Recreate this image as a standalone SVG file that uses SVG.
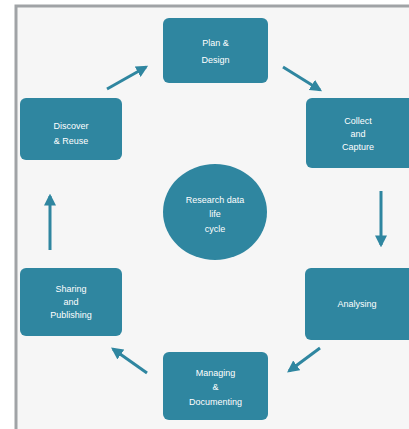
<svg xmlns="http://www.w3.org/2000/svg" width="409" height="429" viewBox="0 0 409 429">
<defs>
<style>
.box{fill:#2f86a0;}
.t{fill:#ffffff;font-family:"Liberation Sans",Arial,sans-serif;font-size:9px;text-anchor:middle;}
.c{stroke:#2f86a0;stroke-width:3;fill:none;marker-end:url(#ah);}
</style>
<marker id="ah" viewBox="0 0 10 10" refX="8" refY="5" markerWidth="4" markerHeight="4" orient="auto">
<path d="M0,0 L10,5 L0,10 z" fill="#2f86a0"/>
</marker>
</defs>
<rect x="0" y="0" width="409" height="429" fill="#ffffff"/>
<rect x="16" y="6" width="400" height="430" fill="#f6f6f6" stroke="#a0a3a6" stroke-width="3"/>
<g id="plan">
<rect class="box" x="163" y="18" width="105" height="65" rx="6"/>
<text class="t" x="215.5" y="46">Plan &amp;</text>
<text class="t" x="215.5" y="63">Design</text>
</g>
<g id="collect">
<rect class="box" x="306" y="98" width="110" height="70" rx="6"/>
<text class="t" x="358" y="124">Collect</text>
<text class="t" x="358" y="137">and</text>
<text class="t" x="358" y="150">Capture</text>
</g>
<g id="analyse">
<rect class="box" x="305" y="268" width="110" height="72" rx="6"/>
<text class="t" x="357" y="307">Analysing</text>
</g>
<g id="manage">
<rect class="box" x="163" y="352" width="105" height="68" rx="6"/>
<text class="t" x="215.5" y="376">Managing</text>
<text class="t" x="215.5" y="390">&amp;</text>
<text class="t" x="215.5" y="405">Documenting</text>
</g>
<g id="share">
<rect class="box" x="20" y="268" width="102" height="68" rx="6"/>
<text class="t" x="71" y="292">Sharing</text>
<text class="t" x="71" y="305">and</text>
<text class="t" x="71" y="318">Publishing</text>
</g>
<g id="reuse">
<rect class="box" x="20" y="98" width="102" height="62" rx="6"/>
<text class="t" x="71" y="129">Discover</text>
<text class="t" x="71" y="144">&amp; Reuse</text>
</g>
<g id="center">
<ellipse class="box" cx="215" cy="212" rx="52" ry="48"/>
<text class="t" x="215" y="203">Research data</text>
<text class="t" x="215" y="217">life</text>
<text class="t" x="215" y="232">cycle</text>
</g>
<g id="connectors">
<line class="c" x1="107" y1="89" x2="146" y2="67"/>
<line class="c" x1="283" y1="67" x2="320" y2="90"/>
<line class="c" x1="381" y1="191" x2="381" y2="245"/>
<line class="c" x1="320" y1="348" x2="289" y2="371"/>
<line class="c" x1="147" y1="373" x2="113" y2="349"/>
<line class="c" x1="50" y1="250" x2="50" y2="196"/>
</g>
</svg>
